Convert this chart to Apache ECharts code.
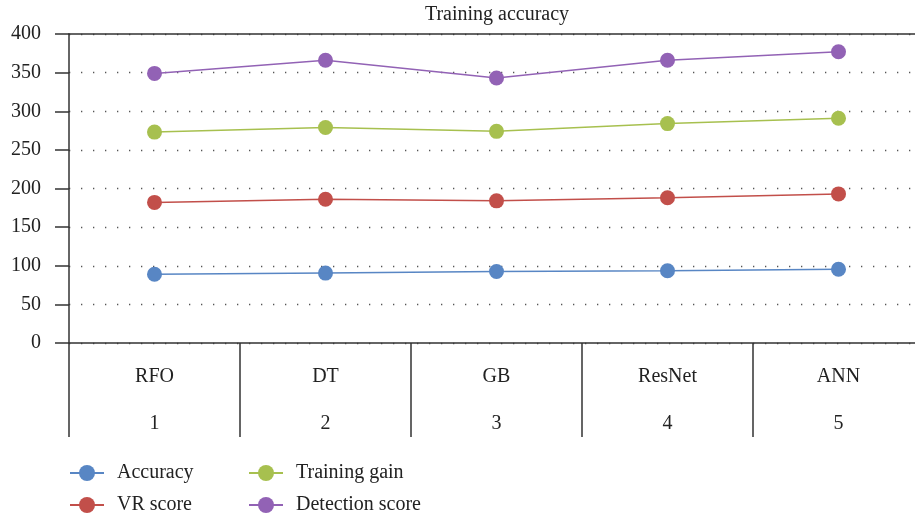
<!DOCTYPE html>
<html>
<head>
<meta charset="utf-8">
<script src="https://cdn.jsdelivr.net/npm/echarts@6/dist/echarts.min.js"></script>
<style>
html,body{margin:0;padding:0;background:#fff;}
#main{width:915px;height:521px;}
</style>
</head>
<body>
<div id="main"></div>
<script>
const categories = ['RFO', 'DT', 'GB', 'ResNet', 'ANN'];
const categoryIndex = ['1', '2', '3', '4', '5'];
const accuracy = [89, 90.5, 92.5, 93.5, 95.5];
const vrScore = [182, 186, 184, 188, 193];
const trainingGain = [273, 279, 274, 284, 291];
const detectionScore = [349, 366, 343, 366, 377];
const yTicks = [0, 400, 50];
const seriesNames = ['Accuracy', 'VR score', 'Training gain', 'Detection score'];

const FONT = '"Liberation Serif", "DejaVu Serif", serif';
const AX = '#333333';

const chart = echarts.init(document.getElementById('main'));
const mkSeries = (name, data, color) => ({
  name: name, type: 'line', data: data,
  symbol: 'circle', symbolSize: 15,
  itemStyle: {color: color},
  lineStyle: {color: color, width: 1.5},
  emphasis: {disabled: true}
});
const legendPos = [[69, 463], [69, 495], [248, 463], [248, 495]];
const mkLegend = (name, pos) => ({
  data: [name], left: pos[0], top: pos[1], padding: 0,
  itemWidth: 34, itemHeight: 20, itemGap: 0,
  textStyle: {fontFamily: FONT, fontSize: 20, color: '#222', padding: [0, 0, 0, 8]}
});
chart.setOption({
  animation: false,
  textStyle: {fontFamily: FONT},
  title: {
    text: 'Training accuracy', left: 497, top: 5, textAlign: 'center', padding: 0,
    textStyle: {fontFamily: FONT, fontSize: 20, fontWeight: 'normal', color: '#222'}
  },
  grid: {left: 69, width: 855, top: 34, height: 309, containLabel: false, outerBoundsMode: 'none'},
  legend: seriesNames.map((n, i) => mkLegend(n, legendPos[i])),
  xAxis: [
    {
      type: 'category', data: categories, boundaryGap: true, position: 'bottom',
      axisLine: {show: true, lineStyle: {color: AX, width: 1.5}},
      axisTick: {show: true, interval: 0, length: 94, lineStyle: {color: AX, width: 1.5}},
      axisLabel: {
        interval: 0, margin: 10, fontFamily: FONT, fontSize: 20, color: '#222', lineHeight: 47,
        formatter: (v, i) => v + '\n' + categoryIndex[i]
      },
      splitLine: {show: false}
    },
    {
      type: 'category', data: categories, position: 'top', gridIndex: 0,
      axisLine: {show: true, lineStyle: {color: AX, width: 1.5}},
      axisTick: {show: false}, axisLabel: {show: false}, splitLine: {show: false}
    }
  ],
  yAxis: {
    type: 'value', min: yTicks[0], max: yTicks[1], interval: yTicks[2],
    axisLine: {show: true, lineStyle: {color: AX, width: 1.5}},
    axisTick: {show: true, inside: false, length: 14, lineStyle: {color: AX, width: 1.5}},
    axisLabel: {margin: 28, fontFamily: FONT, fontSize: 20, color: '#222'},
    splitLine: {show: true, lineStyle: {color: '#555', width: 1.3, type: [1.3, 10.7]}}
  },
  series: [
    mkSeries(seriesNames[0], accuracy, '#5886c4'),
    mkSeries(seriesNames[1], vrScore, '#c24f4a'),
    mkSeries(seriesNames[2], trainingGain, '#a7c04f'),
    mkSeries(seriesNames[3], detectionScore, '#9262b5')
  ]
});
</script>
</body>
</html>
